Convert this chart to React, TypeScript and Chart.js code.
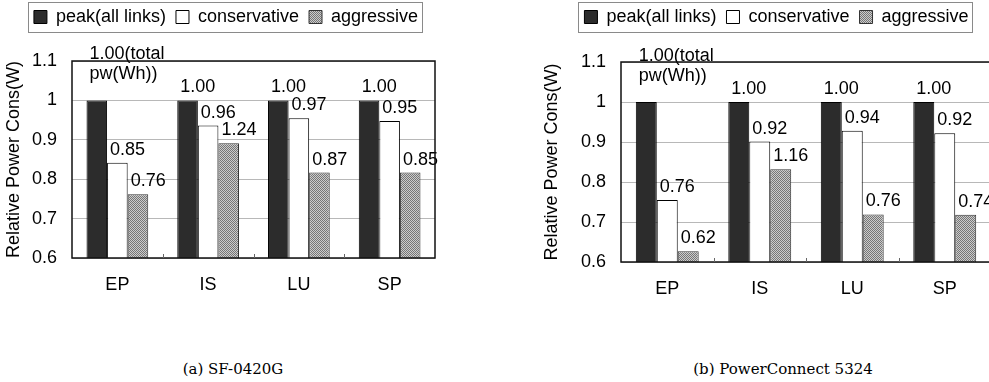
import React, { useEffect, useRef } from 'react';
import { Chart, registerables } from 'chart.js';

Chart.register(...registerables);

// ---------- data ----------
const categories = ['EP', 'IS', 'LU', 'SP'];
const seriesNames = ['peak(all links)', 'conservative', 'aggressive'];
const yAxisTitle = 'Relative Power Cons(W)';
const yMin = 0.6;
const yMax = 1.1;
const yStep = 0.1;

// (a) SF-0420G
const peakA = [1.0, 1.0, 1.0, 1.0];
const conservativeA = [0.842, 0.936, 0.955, 0.948];
const aggressiveA = [0.762, 0.891, 0.817, 0.817];
const peakLabelsA = [['1.00(total', 'pw(Wh))'], '1.00', '1.00', '1.00'];
const conservativeLabelsA = ['0.85', '0.96', '0.97', '0.95'];
const aggressiveLabelsA = ['0.76', '1.24', '0.87', '0.85'];
const captionA = '(a) SF-0420G';

// (b) PowerConnect 5324
const peakB = [1.0, 1.0, 1.0, 1.0];
const conservativeB = [0.755, 0.901, 0.928, 0.922];
const aggressiveB = [0.627, 0.832, 0.719, 0.718];
const peakLabelsB = [['1.00(total', 'pw(Wh))'], '1.00', '1.00', '1.00'];
const conservativeLabelsB = ['0.76', '0.92', '0.94', '0.92'];
const aggressiveLabelsB = ['0.62', '1.16', '0.76', '0.74'];
const captionB = '(b) PowerConnect 5324';

// ---------- styling ----------
const FONT = "'Liberation Sans', Arial, sans-serif";
Chart.defaults.font.family = FONT;
Chart.defaults.color = '#000';

function makePattern(): CanvasPattern | string {
  const c = document.createElement('canvas');
  c.width = 2;
  c.height = 2;
  const g = c.getContext('2d');
  if (!g) return '#a0a0a0';
  g.fillStyle = '#cccccc';
  g.fillRect(0, 0, 2, 2);
  g.fillStyle = '#767676';
  g.fillRect(0, 0, 1, 1);
  g.fillRect(1, 1, 1, 1);
  return g.createPattern(c, 'repeat') || '#a0a0a0';
}

const decorPlugin = {
  id: 'decor',
  afterDatasetsDraw(chart: any) {
    const ctx = chart.ctx as CanvasRenderingContext2D;
    ctx.save();
    ctx.font = `18px ${FONT}`;
    ctx.fillStyle = '#000';
    ctx.textAlign = 'left';
    ctx.textBaseline = 'alphabetic';
    chart.data.datasets.forEach((ds: any, d: number) => {
      const meta = chart.getDatasetMeta(d);
      meta.data.forEach((el: any, i: number) => {
        const p = el.getProps(['x', 'y', 'width'], true);
        const raw = ds.valueLabels ? ds.valueLabels[i] : null;
        if (raw == null) return;
        const lines: string[] = Array.isArray(raw) ? raw : [raw];
        const n = lines.length;
        const lastBase = p.y - 8 - (n - 1) * 13;
        const x = p.x - p.width / 2 + 3;
        lines.forEach((t, j) => {
          ctx.fillText(t, x, lastBase - (n - 1 - j) * 20);
        });
      });
    });
    ctx.restore();
  },
  afterDraw(chart: any) {
    const ctx = chart.ctx as CanvasRenderingContext2D;
    const a = chart.chartArea;
    ctx.save();
    // plot frame
    ctx.strokeStyle = '#111';
    ctx.lineWidth = 1.5;
    ctx.strokeRect(a.left, a.top, a.right - a.left, a.bottom - a.top);
    // category boundary ticks (pointing up)
    const xs = chart.scales.x;
    ctx.strokeStyle = '#666';
    ctx.lineWidth = 1;
    for (let i = 1; i < categories.length; i++) {
      const x = Math.round((xs.getPixelForTick(i - 1) + xs.getPixelForTick(i)) / 2) + 0.5;
      ctx.beginPath();
      ctx.moveTo(x, a.bottom);
      ctx.lineTo(x, a.bottom - 4);
      ctx.stroke();
    }
    // legend frame
    const boxes = chart.legend && chart.legend.legendHitBoxes;
    if (boxes && boxes.length) {
      let l = Infinity, t = Infinity, r = -Infinity, b = -Infinity;
      boxes.forEach((h: any) => {
        l = Math.min(l, h.left);
        t = Math.min(t, h.top);
        r = Math.max(r, h.left + h.width);
        b = Math.max(b, h.top + h.height);
      });
      ctx.strokeStyle = '#8a8a8a';
      ctx.lineWidth = 1;
      ctx.strokeRect(Math.round(l - 6) + 0.5, Math.round(t - 6) + 0.5, Math.round(r - l + 10), Math.round(b - t + 12));
    }
    ctx.restore();
  },
};

interface Geo {
  yAxisWidth: number;
  xAxisHeight: number;
  spacer: number;
  padLeft: number;
  padRight: number;
  titlePad: number;
}

function buildConfig(
  peak: number[],
  cons: number[],
  aggr: number[],
  peakL: any[],
  consL: any[],
  aggrL: any[],
  geo: Geo,
  pattern: CanvasPattern | string
): any {
  return {
    type: 'bar',
    data: {
      labels: categories,
      datasets: [
        {
          label: seriesNames[0],
          data: peak,
          valueLabels: peakL,
          backgroundColor: '#2c2c2c',
          borderColor: '#000',
          borderWidth: 1,
        },
        {
          label: seriesNames[1],
          data: cons,
          valueLabels: consL,
          backgroundColor: '#ffffff',
          borderColor: '#000',
          borderWidth: 1,
        },
        {
          label: seriesNames[2],
          data: aggr,
          valueLabels: aggrL,
          backgroundColor: pattern,
          borderColor: '#333',
          borderWidth: 1,
        },
      ],
    },
    options: {
      responsive: false,
      animation: false,
      devicePixelRatio: 1,
      layout: { padding: { top: -2, left: geo.padLeft, right: geo.padRight, bottom: 0 } },
      datasets: {
        bar: { categoryPercentage: 0.68, barPercentage: 1.0 },
      },
      plugins: {
        tooltip: { enabled: false },
        legend: {
          display: true,
          position: 'top',
          labels: {
            boxWidth: 13,
            boxHeight: 13,
            padding: 10,
            color: '#000',
            font: { size: 18, family: FONT },
          },
        },
        title: {
          display: true,
          text: '',
          position: 'top',
          weight: 500,
          font: { size: 1, lineHeight: 1 },
          padding: { top: geo.spacer - 1, bottom: 0 },
        },
      },
      scales: {
        x: {
          grid: { display: false, drawTicks: false },
          border: { display: false },
          ticks: { padding: 16, color: '#000', font: { size: 18, family: FONT } },
          afterFit: (s: any) => {
            s.height = geo.xAxisHeight;
          },
        },
        y: {
          min: yMin,
          max: yMax,
          grid: { color: '#b8b8b8', lineWidth: 1, drawTicks: false },
          border: { display: false },
          ticks: {
            stepSize: yStep,
            padding: 15,
            color: '#000',
            font: { size: 18, family: FONT },
            callback: (v: any) => String(Number(Number(v).toFixed(1))),
          },
          title: {
            display: true,
            text: yAxisTitle,
            color: '#000',
            font: { size: 18, family: FONT, lineHeight: 1 },
            padding: { top: geo.titlePad, bottom: 0 },
          },
          afterFit: (s: any) => {
            s.width = geo.yAxisWidth;
          },
        },
      },
    },
    plugins: [decorPlugin],
  };
}

export default function App() {
  const refA = useRef<HTMLCanvasElement | null>(null);
  const refB = useRef<HTMLCanvasElement | null>(null);

  useEffect(() => {
    const pattern = makePattern();
    const charts: Chart[] = [];
    if (refA.current) {
      charts.push(
        new Chart(
          refA.current,
          buildConfig(peakA, conservativeA, aggressiveA, peakLabelsA, conservativeLabelsA, aggressiveLabelsA,
            { yAxisWidth: 55, xAxisHeight: 42, spacer: 25, padLeft: 17, padRight: 10, titlePad: -12 }, pattern)
        )
      );
    }
    if (refB.current) {
      charts.push(
        new Chart(
          refB.current,
          buildConfig(peakB, conservativeB, aggressiveB, peakLabelsB, conservativeLabelsB, aggressiveLabelsB,
            { yAxisWidth: 59, xAxisHeight: 43, spacer: 26, padLeft: 22, padRight: 9, titlePad: -19 }, pattern)
        )
      );
    }
    return () => charts.forEach((c) => c.destroy());
  }, []);

  const captionStyle: React.CSSProperties = {
    position: 'absolute',
    top: 362,
    width: 300,
    textAlign: 'center',
    fontFamily: "'DejaVu Serif', serif",
    fontSize: 15,
    lineHeight: '15px',
    color: '#000',
    whiteSpace: 'nowrap',
  };

  return (
    <div
      style={{
        position: 'fixed',
        left: 0,
        top: 0,
        width: 989,
        height: 382,
        overflow: 'hidden',
        background: '#fff',
      }}
    >
      <canvas ref={refA} width={445} height={300} style={{ position: 'absolute', left: 0, top: 0 }} />
      <canvas ref={refB} width={460} height={305} style={{ position: 'absolute', left: 540, top: 0 }} />
      <div style={{ ...captionStyle, left: 233 - 150 }}>{captionA}</div>
      <div style={{ ...captionStyle, left: 783 - 150 }}>{captionB}</div>
    </div>
  );
}
